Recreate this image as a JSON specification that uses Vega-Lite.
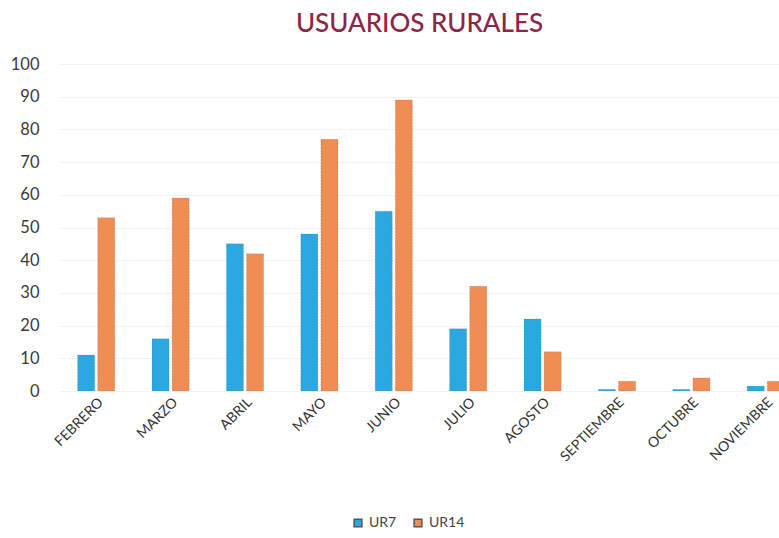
{
  "$schema": "https://vega.github.io/schema/vega-lite/v6.json",
  "width": 721,
  "height": 327,
  "padding": {"top": 11, "left": 10, "right": 0, "bottom": 5},
  "background": "white",
  "title": {"text": "USUARIOS RURALES", "font": "Lato", "fontSize": 26, "fontWeight": 500, "color": "#8E2448", "anchor": "middle", "offset": 19},
  "config": {"view": {"stroke": null}, "font": "Lato"},
  "data": {"values": [
    {"mes": "FEBRERO", "serie": "UR7", "valor": 11},
    {"mes": "FEBRERO", "serie": "UR14", "valor": 53},
    {"mes": "MARZO", "serie": "UR7", "valor": 16},
    {"mes": "MARZO", "serie": "UR14", "valor": 59},
    {"mes": "ABRIL", "serie": "UR7", "valor": 45},
    {"mes": "ABRIL", "serie": "UR14", "valor": 42},
    {"mes": "MAYO", "serie": "UR7", "valor": 48},
    {"mes": "MAYO", "serie": "UR14", "valor": 77},
    {"mes": "JUNIO", "serie": "UR7", "valor": 55},
    {"mes": "JUNIO", "serie": "UR14", "valor": 89},
    {"mes": "JULIO", "serie": "UR7", "valor": 19},
    {"mes": "JULIO", "serie": "UR14", "valor": 32},
    {"mes": "AGOSTO", "serie": "UR7", "valor": 22},
    {"mes": "AGOSTO", "serie": "UR14", "valor": 12},
    {"mes": "SEPTIEMBRE", "serie": "UR7", "valor": 0.5},
    {"mes": "SEPTIEMBRE", "serie": "UR14", "valor": 3},
    {"mes": "OCTUBRE", "serie": "UR7", "valor": 0.5},
    {"mes": "OCTUBRE", "serie": "UR14", "valor": 4},
    {"mes": "NOVIEMBRE", "serie": "UR7", "valor": 1.5},
    {"mes": "NOVIEMBRE", "serie": "UR14", "valor": 3}
  ]},
  "mark": {"type": "bar", "clip": true, "stroke": "#555", "strokeOpacity": 0.35, "strokeWidth": 0.6, "strokeDash": [2, 1]},
  "encoding": {
    "x": {
      "field": "mes", "type": "nominal", "sort": null, "title": null,
      "scale": {"range": [0, 744], "paddingInner": 0.5, "paddingOuter": 0.25},
      "axis": {"labelAngle": -45, "labelFontSize": 14, "labelColor": "#333", "domain": false, "ticks": false, "labelPadding": 4}
    },
    "xOffset": {"field": "serie", "type": "nominal", "sort": ["UR7", "UR14"], "scale": {"paddingInner": 0.15}},
    "y": {
      "field": "valor", "type": "quantitative", "title": null,
      "scale": {"domain": [0, 100], "nice": false},
      "axis": {"values": [0, 10, 20, 30, 40, 50, 60, 70, 80, 90, 100], "labelFontSize": 16.5, "labelColor": "#3a3a3a", "domain": false, "ticks": false, "labelPadding": 20, "grid": true, "gridColor": "#f3f3f3"}
    },
    "color": {
      "field": "serie", "type": "nominal", "sort": ["UR7", "UR14"],
      "scale": {"domain": ["UR7", "UR14"], "range": ["#2BA8DF", "#EF8D55"]},
      "legend": {"orient": "none", "legendX": 292, "legendY": 452, "direction": "horizontal", "title": null, "symbolType": "square", "symbolSize": 60, "labelFontSize": 14, "labelColor": "#444", "columnPadding": 14}
    }
  }
}
